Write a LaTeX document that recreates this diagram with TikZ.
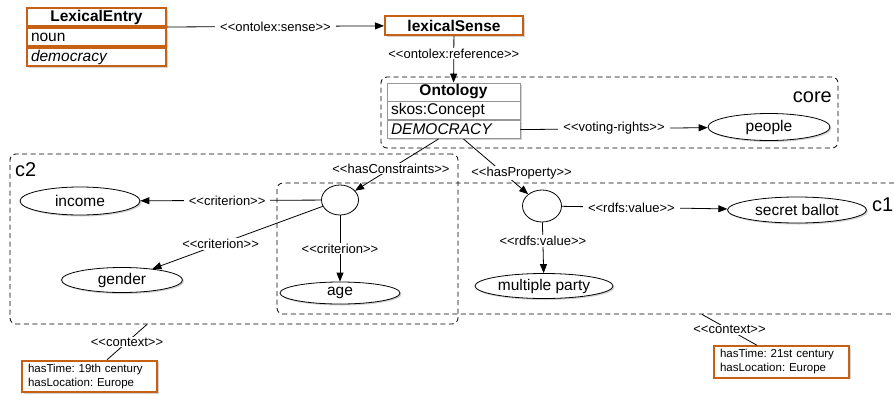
\documentclass[tikz,border=0pt]{standalone}
\usepackage{fontspec}
\setmainfont{Liberation Sans}
\usetikzlibrary{positioning,shapes.geometric,shadows,arrows.meta}
\definecolor{lexorange}{RGB}{197,96,20}
\definecolor{ontogray}{RGB}{150,150,150}
\newcommand\stereo[1]{<\kern0pt<#1>\kern0pt>}

\begin{document}
\begin{tikzpicture}[x=1pt, y=-1pt, >={Triangle[length=9pt,width=7pt]},
  boxshadow/.style={drop shadow={shadow xshift=1.5pt, shadow yshift=-1.5pt, opacity=.35}},
  entryhead/.style={draw=lexorange, line width=2pt, fill=white, boxshadow,
    minimum width=139pt, minimum height=18pt, inner sep=1pt,
    font=\fontsize{15.5}{17}\selectfont\bfseries},
  entryrow/.style={entryhead, text width=131pt, align=left, inner xsep=4pt,
    font=\fontsize{15.5}{17}\selectfont},
  ontohead/.style={entryhead, draw=ontogray, line width=.8pt, minimum width=133pt},
  ontorow/.style={entryrow, draw=ontogray, line width=.8pt, minimum width=133pt, text width=125pt},
  concept/.style={ellipse, draw, line width=.8pt, fill=white, boxshadow, inner sep=0pt,
    font=\fontsize{15.5}{17}\selectfont},
  blank/.style={ellipse, draw, line width=.8pt, fill=white, inner sep=0pt},
  group/.style={draw, line width=.8pt, dash pattern=on 5pt off 3.5pt,
    rounded corners=6pt, inner sep=0pt},
  grouplabel/.style={font=\fontsize{20}{22}\selectfont, inner sep=0pt},
  rel/.style={fill=white, inner xsep=5pt, inner ysep=1pt, font=\fontsize{13}{15}\selectfont},
  ctxbox/.style={draw=lexorange, line width=2pt, fill=white, boxshadow,
    text width=123pt, inner xsep=6pt, minimum height=29pt, align=left,
    font=\fontsize{11.5}{14}\selectfont\frenchspacing}]
  \useasboundingbox (0,0) rectangle (894,394);

  \node[group, minimum width=457pt, minimum height=71pt] (core) at (609.5,112.5) {};
  \node[group, minimum width=448pt, minimum height=170pt] (c2) at (234,239) {};
  \node[group, minimum width=623pt, minimum height=131pt] (c1) at (588.5,248.5) {};
  \node[grouplabel, anchor=east] (corelbl) at (832,97) {core};
  \node[grouplabel, anchor=west] (c2lbl) at (15,170) {c2};
  \node[grouplabel, anchor=west] (c1lbl) at (872,205) {c1};

  \node[entryhead] (lexhead) at (96.5,17) {LexicalEntry};
  \node[entryrow] (lexrow1) [below=0pt of lexhead] {noun};
  \node[entryrow] (lexrow2) [below=0pt of lexrow1] {\itshape democracy};
  \node[entryhead, minimum width=138pt, minimum height=19pt] (sense) at (454,25.5) {lexicalSense};

  \node[ontohead] (ontohead) at (453.5,92) {Ontology};
  \node[ontorow] (ontorow1) [below=0pt of ontohead] {skos:Concept};
  \node[ontorow] (ontorow2) [below=0pt of ontorow1] {\itshape DEMOCRACY};
  \node[concept, minimum width=122pt, minimum height=27pt] (people) at (769,127) {people};

  \node[blank, minimum width=37pt, minimum height=30pt] (cA) at (340,200) {};
  \node[blank, minimum width=39pt, minimum height=32pt] (cB) at (542,206) {};
  \node[concept, minimum width=120pt, minimum height=28pt] (income) at (80,201) {income};
  \node[concept, minimum width=121pt, minimum height=25pt] (gender) at (122,280) {gender};
  \node[concept, minimum width=120pt, minimum height=22pt] (age) at (340,293) {age};
  \node[concept, minimum width=138pt, minimum height=25pt] (mparty) at (544,286) {multiple party};
  \node[concept, minimum width=139pt, minimum height=26pt] (secret) at (797,210) {secret ballot};

  \node[ctxbox] (ctx2) at (89.5,376.5) {hasTime: 19th century\\hasLocation: Europe};
  \node[ctxbox] (ctx1) at (781.5,362) {hasTime: 21st century\\hasLocation: Europe};

  \path[->, line width=.8pt]
    (lexhead.south east) edge node[rel] {\stereo{ontolex:sense}} (sense)
    (sense) edge node[rel, pos=.38] {\stereo{ontolex:reference}} (ontohead)
    (ontorow2.east) edge node[rel] {\stereo{voting-rights}} (people)
    ([xshift=-15pt]ontorow2.south) edge node[rel, pos=.57] {\stereo{hasConstraints}} (cA)
    ([xshift=10pt]ontorow2.south) edge node[rel, pos=.62, xshift=18pt] {\stereo{hasProperty}} (cB)
    (cA) edge node[rel, pos=.52] {\stereo{criterion}} (income)
    (cA) edge node[rel, pos=.6] {\stereo{criterion}} (gender)
    (cA) edge node[rel] {\stereo{criterion}} (age)
    (cB) edge node[rel, pos=.42] {\stereo{rdfs:value}} (secret)
    (cB) edge node[rel, pos=.37] {\stereo{rdfs:value}} (mparty);
  \path[line width=.8pt]
    ([xshift=-87pt]c2.south) edge node[rel] {\stereo{context}} ([xshift=17.5pt]ctx2.north)
    ([xshift=113.5pt]c1.south) edge node[rel] {\stereo{context}} ([xshift=-24.5pt]ctx1.north);
\end{tikzpicture}
\end{document}
